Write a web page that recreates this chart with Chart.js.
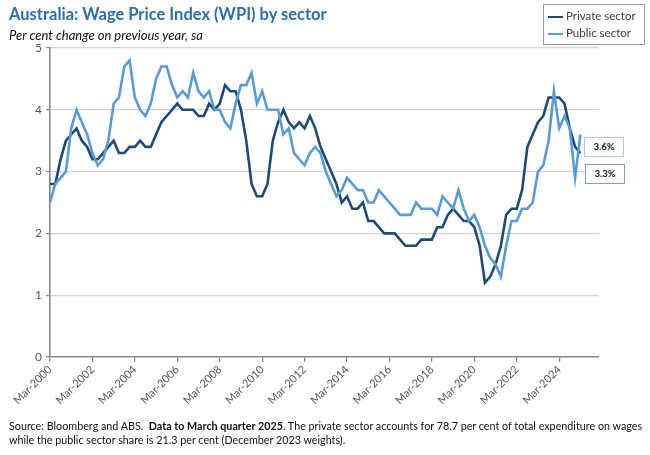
<!DOCTYPE html>
<html><head><meta charset="utf-8">
<script src="https://cdn.jsdelivr.net/npm/chart.js@4.4.1/dist/chart.umd.min.js"></script>
<style>
html,body{margin:0;padding:0;background:#fff;}
#wrap{position:relative;width:650px;height:455px;font-family:Lato,"Open Sans",sans-serif;overflow:hidden;background:#fff;}
#cv{position:absolute;left:0;top:0;width:650px;height:455px;}
.title{position:absolute;left:9px;top:4px;font-size:16.5px;font-weight:700;color:#2f6eaa;white-space:nowrap;}
.sub{position:absolute;left:9px;top:27px;font-size:13px;font-style:italic;color:#111;white-space:nowrap;}
.legend{position:absolute;left:543px;top:4px;width:102px;height:41px;border:1px solid #9a9a9a;box-sizing:border-box;background:#fff;font-size:11.5px;color:#404040;}
.legend .row{position:absolute;left:4px;height:14px;line-height:14px;white-space:nowrap;}
.legend .sw{display:inline-block;width:15px;height:2.5px;vertical-align:middle;margin-right:3px;}
.src{position:absolute;left:9px;top:419px;font-size:10.75px;color:#111;line-height:14px;white-space:nowrap;}
.vbox{position:absolute;width:40px;height:20px;box-sizing:border-box;background:#fff;font-size:9.5px;font-weight:700;color:#1a1a1a;text-align:center;line-height:18px;}
</style>
</head><body>
<div id="wrap">
<canvas id="cv" width="650" height="455"></canvas>
<div class="title">Australia: Wage Price Index (WPI) by sector</div>
<div class="sub">Per cent change on previous year, sa</div>
<div class="legend">
  <div class="row" style="top:4px"><span class="sw" style="background:#1f4a75"></span>Private sector</div>
  <div class="row" style="top:21px"><span class="sw" style="background:#5b9bd5"></span>Public sector</div>
</div>
<div class="src">Source: Bloomberg and ABS.&nbsp; <b>Data to March quarter 2025</b>. The private sector accounts for 78.7 per cent of total expenditure on wages<br>while the public sector share is 21.3 per cent (December 2023 weights).</div>
<div class="vbox" id="boxPub" style="left:584px;top:137px;border:1.3px solid #a9cbe8;"></div>
<div class="vbox" id="boxPriv" style="left:585px;top:164px;border:1.3px solid #7f9fbf;"></div>
</div>
<script>
// Categories: quarters from Mar-2000 to Mar-2025
const startYear = 2000;
const quarterMonths = ['Mar','Jun','Sep','Dec'];
const quarters = [];
for (let y = startYear; y <= 2025; y++) {
  for (const m of quarterMonths) {
    if (y === 2025 && m !== 'Mar') break;
    quarters.push(m + '-' + y);
  }
}
const tickLabels = ['Mar-2000','Mar-2002','Mar-2004','Mar-2006','Mar-2008','Mar-2010','Mar-2012',
                    'Mar-2014','Mar-2016','Mar-2018','Mar-2020','Mar-2022','Mar-2024'];

const privateSector = [
  2.8,2.8,3.2,3.5,3.6,3.7,3.5,3.4,3.2,3.2,
  3.3,3.4,3.5,3.3,3.3,3.4,3.4,3.5,3.4,3.4,
  3.6,3.8,3.9,4.0,4.1,4.0,4.0,4.0,3.9,3.9,
  4.1,4.0,4.1,4.4,4.3,4.3,4.0,3.5,2.8,2.6,
  2.6,2.8,3.5,3.8,4.0,3.8,3.7,3.8,3.7,3.9,
  3.7,3.4,3.2,3.0,2.8,2.5,2.6,2.4,2.4,2.5,
  2.2,2.2,2.1,2.0,2.0,2.0,1.9,1.8,1.8,1.8,
  1.9,1.9,1.9,2.1,2.1,2.3,2.4,2.3,2.2,2.2,
  2.1,1.8,1.2,1.3,1.5,1.8,2.3,2.4,2.4,2.7,
  3.4,3.6,3.8,3.9,4.2,4.2,4.2,4.1,3.7,3.4,
  3.3
];
const publicSector = [
  2.5,2.8,2.9,3.0,3.7,4.0,3.8,3.6,3.3,3.1,
  3.2,3.5,4.1,4.2,4.7,4.8,4.2,4.0,3.9,4.1,
  4.5,4.7,4.7,4.4,4.2,4.3,4.2,4.6,4.3,4.2,
  4.3,4.0,4.0,3.8,3.7,4.1,4.4,4.4,4.6,4.1,
  4.3,4.0,4.0,4.0,3.6,3.7,3.3,3.2,3.1,3.3,
  3.4,3.3,3.0,2.8,2.6,2.7,2.9,2.8,2.7,2.7,
  2.5,2.5,2.7,2.6,2.5,2.4,2.3,2.3,2.3,2.5,
  2.4,2.4,2.4,2.3,2.6,2.5,2.4,2.7,2.4,2.2,
  2.3,2.1,1.8,1.6,1.5,1.3,1.8,2.2,2.2,2.4,
  2.4,2.5,3.0,3.1,3.5,4.3,3.7,3.9,3.7,2.9,
  3.6
];
const yTicks = [0,1,2,3,4,5];

const toPoints = arr => arr.map((v, i) => ({x: i, y: v}));

document.getElementById('boxPub').textContent = publicSector[publicSector.length-1].toFixed(1) + '%';
document.getElementById('boxPriv').textContent = privateSector[privateSector.length-1].toFixed(1) + '%';

Chart.defaults.font.family = 'Lato, "Open Sans", sans-serif';
const axisGray = '#868686';

new Chart(document.getElementById('cv'), {
  type: 'line',
  data: {
    datasets: [
      { label: 'Public sector', data: toPoints(publicSector), borderColor: '#5b9bd5',
        borderWidth: 2.6, pointRadius: 0, tension: 0, fill: false, order: 0 },
      { label: 'Private sector', data: toPoints(privateSector), borderColor: '#1f4a75',
        borderWidth: 2.6, pointRadius: 0, tension: 0, fill: false, order: 1 }
    ]
  },
  options: {
    responsive: false,
    animation: false,
    devicePixelRatio: 1,
    layout: { padding: { left: 0, top: 48, right: 51, bottom: 0 } },
    plugins: { legend: { display: false }, tooltip: { enabled: false }, title: { display: false } },
    scales: {
      x: {
        type: 'linear',
        min: 0,
        max: 103.5,
        afterFit: s => { s.height = 98; },
        border: { display: true, color: axisGray, width: 1.6 },
        grid: { display: true, drawOnChartArea: false, drawTicks: true, tickLength: 5, color: axisGray, tickColor: axisGray, lineWidth: 1.2 },
        ticks: {
          stepSize: 8,
          includeBounds: false,
          autoSkip: false,
          maxRotation: 45,
          minRotation: 45,
          padding: 1,
          color: '#595959',
          font: { size: 11 },
          callback: v => {
            const lab = quarters[v];
            return tickLabels.includes(lab) ? lab : '';
          }
        }
      },
      y: {
        min: 0,
        max: 5,
        afterFit: s => { s.width = 50; },
        afterBuildTicks: s => { s.ticks = yTicks.map(v => ({value: v})); },
        border: { display: true, color: axisGray, width: 1.6 },
        grid: {
          drawTicks: true, tickLength: 4,
          color: ctx => (ctx.tick && ctx.tick.value === 0) ? 'rgba(0,0,0,0)' : '#d4d4d4',
          tickColor: axisGray, lineWidth: 1.2
        },
        ticks: { color: '#595959', font: { size: 12 }, padding: 4 }
      }
    }
  }
});
</script>
</body></html>
